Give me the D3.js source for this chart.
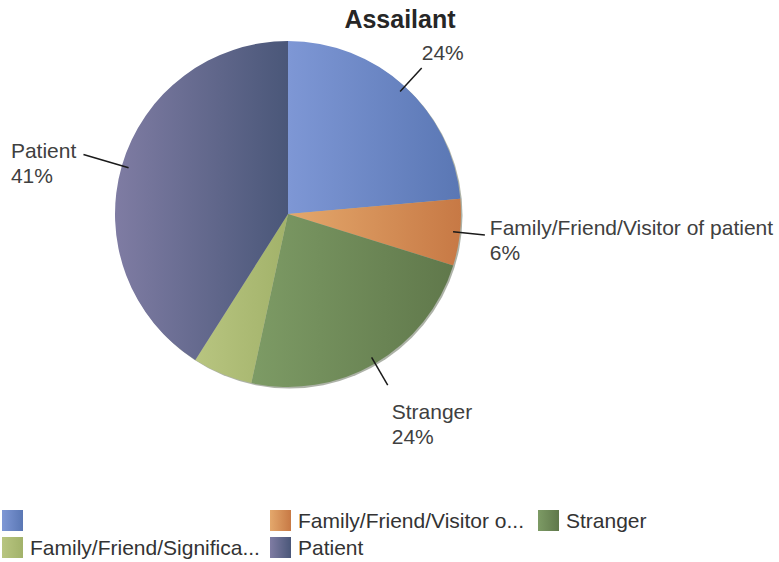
<!DOCTYPE html>
<html>
<head>
<meta charset="utf-8">
<script src="https://cdn.jsdelivr.net/npm/d3@7"></script>
<style>
    body { margin: 0; background: #ffffff; }
    text { font-family: "Liberation Sans", Arial, sans-serif; }
</style>
</head>
<body>
<div id="chart"></div>
<script>
// slice data, clockwise from 12 o'clock
var categories = ["", "Family/Friend/Visitor of patient", "Stranger", "Family/Friend/Significant other", "Patient"];
var values = [23.6, 6.2, 23.6, 5.6, 41.0];
var lightColors = ["#7e97d5", "#e4a86c", "#7d9b65", "#b8c580", "#7f7ca3"];
var darkColors = ["#5a77b4", "#c77945", "#60784b", "#a2b26a", "#4a5779"];
var title = "Assailant";

var width = 779;
var height = 562;
var cx = 288, cy = 214, radius = 173;

var svg = d3.select('#chart')
    .append('svg')
    .attr('width', width)
    .attr('height', height);

// one horizontal gradient per slice
var defs = svg.append('defs');
categories.forEach(function(c, i) {
    var grad = defs.append('linearGradient')
        .attr('id', 'grad' + i)
        .attr('x1', '0%').attr('y1', '0%')
        .attr('x2', '100%').attr('y2', '0%');
    grad.append('stop').attr('offset', '0%').attr('stop-color', lightColors[i]);
    grad.append('stop').attr('offset', '100%').attr('stop-color', darkColors[i]);
});

svg.append('text')
    .attr('x', 400)
    .attr('y', 28)
    .attr('text-anchor', 'middle')
    .style('font-size', '25px')
    .style('font-weight', 'bold')
    .style('fill', '#262626')
    .text(title);

var data = categories.map(function(c, i) { return { name: c, value: values[i], idx: i }; });
var total = d3.sum(values);

var pie = d3.pie()
    .value(function(d) { return d.value; })
    .sort(null);

var arc = d3.arc()
    .innerRadius(0)
    .outerRadius(radius);

var g = svg.append('g')
    .attr('transform', 'translate(' + cx + ',' + cy + ')');

var arcs = pie(data);

// a thin darker rim to fake the slight 3D tilt
g.append('circle')
    .attr('cx', 1.5)
    .attr('cy', 1.5)
    .attr('r', radius)
    .attr('fill', '#5b6650')
    .attr('opacity', 0.5);

g.selectAll('path.slice')
    .data(arcs)
    .enter()
    .append('path')
    .attr('class', 'slice')
    .attr('d', arc)
    .attr('fill', function(d) { return 'url(#grad' + d.data.idx + ')'; });

// leader lines + labels (tiny slices are skipped, as in the original)
var labelArcs = arcs.filter(function(d) { return d.data.value >= 6; });
var lineH = 25;

labelArcs.forEach(function(d) {
    var a = (d.startAngle + d.endAngle) / 2;
    var deg = a * 180 / Math.PI;
    var r1 = radius - 7;
    var r2 = deg >= 230 ? radius + 40 : radius + 25;
    var x1 = Math.sin(a) * r1, y1 = -Math.cos(a) * r1;
    var x2 = Math.sin(a) * r2, y2 = -Math.cos(a) * r2;

    g.append('line')
        .attr('x1', x1).attr('y1', y1)
        .attr('x2', x2).attr('y2', y2)
        .style('stroke', '#1a1a1a')
        .style('stroke-width', 1.5);

    var lines = [];
    if (d.data.name !== "") lines.push(d.data.name);
    lines.push(Math.round(d.data.value / total * 100) + '%');

    var t = g.append('text')
        .style('font-size', '21px')
        .style('fill', '#404040');

    var tx, ty;
    if (deg < 60) {
        // upper right: text sits above the line end
        tx = x2;
        ty = y2 - 8 - (lines.length - 1) * lineH;
    } else if (deg < 130) {
        tx = x2 + 5;
        ty = y2 + 12 - (lines.length - 1) * lineH / 2;
    } else if (deg < 230) {
        tx = x2 + 4;
        ty = y2 + 34;
    } else {
        tx = x2 - 7;
        ty = y2 + 3;
    }

    lines.forEach(function(s, k) {
        t.append('tspan')
            .attr('x', tx)
            .attr('y', ty + k * lineH)
            .text(s);
    });

    if (deg >= 230) {
        // left side: left-aligned block that ends before the line
        var w = t.node().getBBox().width;
        t.selectAll('tspan').attr('x', tx - w);
    }
});

// legend
var legendNames = categories.map(function(c) {
    return c.length > 23 ? c.slice(0, 23) + '...' : c;
});
var colW = 268, rowH = 27, perRow = 3;

var legend = svg.append('g')
    .attr('transform', 'translate(2,510)');

var item = legend.selectAll('g.item')
    .data(legendNames)
    .enter()
    .append('g')
    .attr('class', 'item')
    .attr('transform', function(d, i) {
        return 'translate(' + ((i % perRow) * colW) + ',' + (Math.floor(i / perRow) * rowH) + ')';
    });

item.append('rect')
    .attr('width', 21)
    .attr('height', 21)
    .attr('fill', function(d, i) { return 'url(#grad' + i + ')'; });

item.append('text')
    .attr('x', 28)
    .attr('y', 18)
    .style('font-size', '21px')
    .style('fill', '#333333')
    .text(function(d) { return d; });
</script>
</body>
</html>
